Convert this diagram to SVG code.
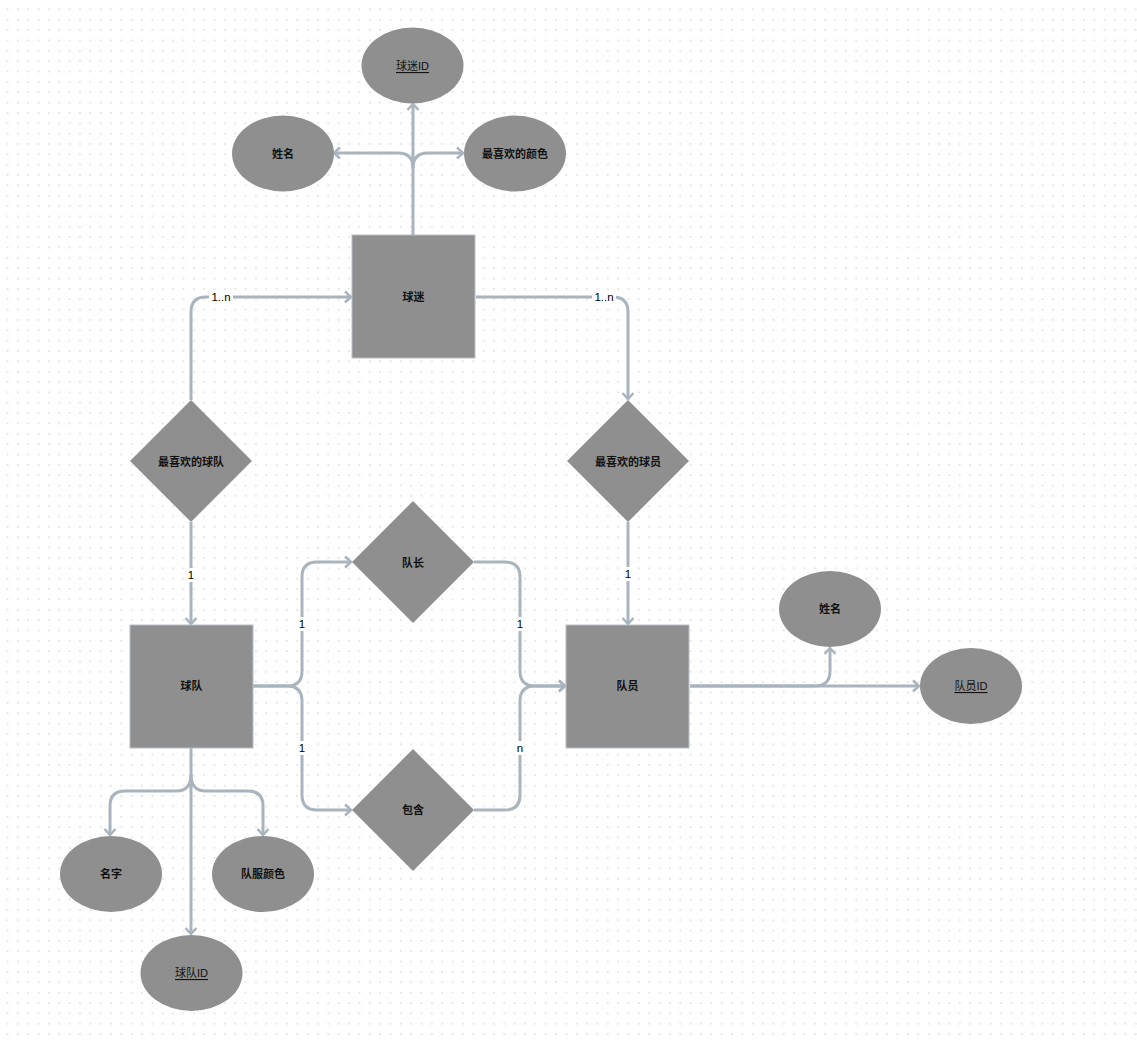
<svg xmlns="http://www.w3.org/2000/svg" width="1137" height="1042" viewBox="0 0 1137 1042">
<style>
.n{fill:#8f8f8f;}
.r{fill:#8f8f8f;stroke:#b8bfc6;stroke-width:1;}
.t{font-family:"Liberation Sans","Noto Sans CJK SC",sans-serif;font-size:11px;font-weight:bold;fill:#111;text-anchor:middle;dominant-baseline:central;}
.u{text-decoration:underline;font-weight:normal;}
.c{fill:none;stroke:#a9b4be;stroke-width:3;}
.a{marker-end:url(#arr);}
.lb{fill:#ffffff;}
.l{font-family:"Liberation Sans",sans-serif;font-size:11.5px;fill:#000;text-anchor:middle;dominant-baseline:central;}
</style>
<defs>
<pattern id="dots" x="0" y="0" width="10.35" height="10.35" patternUnits="userSpaceOnUse">
<rect x="6.5" y="8.5" width="2" height="2" fill="#e4e6e8"/>
</pattern>
<marker id="arr" markerUnits="userSpaceOnUse" markerWidth="12" markerHeight="14" refX="8" refY="7" orient="auto">
<path d="M2,1.5 L8,7 L2,12.5" fill="none" stroke="#a9b4be" stroke-width="2.5"/>
</marker>
</defs>
<rect width="1137" height="1042" fill="#ffffff"/>
<rect width="1137" height="1042" fill="url(#dots)"/>

<g id="connectors">
<path class="c a" d="M413,235 L413,104"/>
<path class="c a" d="M413,168 Q413,153 398,153 L334,153"/>
<path class="c a" d="M413,168 Q413,153 428,153 L463,153"/>
<path class="c a" d="M191,400 L191,312 Q191,297 206,297 L351,297"/>
<path class="c a" d="M476,297 L613,297 Q628,297 628,312 L628,399"/>
<path class="c a" d="M191,522 L191,624"/>
<path class="c a" d="M628,522 L628,624"/>
<path class="c a" d="M253,686 L287,686 Q302,686 302,671 L302,577 Q302,562 317,562 L351,562"/>
<path class="c a" d="M253,686 L287,686 Q302,686 302,701 L302,795 Q302,810 317,810 L351,810"/>
<path class="c a" d="M474,562 L505,562 Q520,562 520,577 L520,671 Q520,686 535,686 L565,686"/>
<path class="c a" d="M474,810 L505,810 Q520,810 520,795 L520,701 Q520,686 535,686 L565,686"/>
<path class="c a" d="M690,686 L919,686"/>
<path class="c a" d="M690,686 L815,686 Q830,686 830,671 L830,648"/>
<path class="c a" d="M191,748 L191,934"/>
<path class="c a" d="M191,775 Q191,791 176,791 L125,791 Q110,791 110,806 L110,835"/>
<path class="c a" d="M191,775 Q191,791 206,791 L248,791 Q263,791 263,806 L263,835"/>
<rect class="lb" x="209" y="290" width="24" height="14"/>
<text class="l" x="221" y="297">1..n</text>
<rect class="lb" x="592" y="290" width="24" height="14"/>
<text class="l" x="604" y="297">1..n</text>
<rect class="lb" x="185" y="568" width="12" height="14"/>
<text class="l" x="191" y="575">1</text>
<rect class="lb" x="622" y="567" width="12" height="14"/>
<text class="l" x="628" y="574">1</text>
<rect class="lb" x="296" y="617" width="12" height="14"/>
<text class="l" x="302" y="624">1</text>
<rect class="lb" x="296" y="741" width="12" height="14"/>
<text class="l" x="302" y="748">1</text>
<rect class="lb" x="514" y="617" width="12" height="14"/>
<text class="l" x="520" y="624">1</text>
<rect class="lb" x="514" y="741" width="12" height="14"/>
<text class="l" x="520" y="748">n</text>
</g>

<g id="fan">
<rect class="r" x="352" y="235" width="123" height="123"/>
<text class="t" x="413.5" y="297">球迷</text>
</g>
<g id="fan-id">
<ellipse class="n" cx="412.5" cy="65.5" rx="51" ry="38"/>
<text class="t u" x="412.5" y="66">球迷ID</text>
</g>
<g id="fan-name">
<ellipse class="n" cx="283" cy="153.5" rx="51" ry="38"/>
<text class="t" x="283" y="154">姓名</text>
</g>
<g id="fan-color">
<ellipse class="n" cx="515" cy="153.5" rx="51" ry="38"/>
<text class="t" x="515" y="154">最喜欢的颜色</text>
</g>
<g id="fav-team">
<polygon class="n" points="191,400 252,461 191,522 130,461"/>
<text class="t" x="191" y="462">最喜欢的球队</text>
</g>
<g id="fav-player">
<polygon class="n" points="628,400 689,461 628,522 567,461"/>
<text class="t" x="628" y="462">最喜欢的球员</text>
</g>
<g id="team">
<rect class="r" x="130" y="625" width="123" height="123"/>
<text class="t" x="191.5" y="686">球队</text>
</g>
<g id="player">
<rect class="r" x="566" y="625" width="123" height="123"/>
<text class="t" x="627.5" y="686">队员</text>
</g>
<g id="captain">
<polygon class="n" points="413,501 474,562 413,623 352,562"/>
<text class="t" x="413" y="563">队长</text>
</g>
<g id="contains">
<polygon class="n" points="413,749 474,810 413,871 352,810"/>
<text class="t" x="413" y="810">包含</text>
</g>
<g id="player-name">
<ellipse class="n" cx="830" cy="609" rx="51" ry="38"/>
<text class="t" x="830" y="609">姓名</text>
</g>
<g id="player-id">
<ellipse class="n" cx="971" cy="686" rx="51" ry="38"/>
<text class="t u" x="971" y="686">队员ID</text>
</g>
<g id="team-name">
<ellipse class="n" cx="111" cy="874" rx="51" ry="38"/>
<text class="t" x="111" y="874">名字</text>
</g>
<g id="team-color">
<ellipse class="n" cx="263" cy="874" rx="51" ry="38"/>
<text class="t" x="263" y="874">队服颜色</text>
</g>
<g id="team-id">
<ellipse class="n" cx="191.5" cy="973" rx="51" ry="38"/>
<text class="t u" x="191.5" y="973">球队ID</text>
</g>
</svg>
